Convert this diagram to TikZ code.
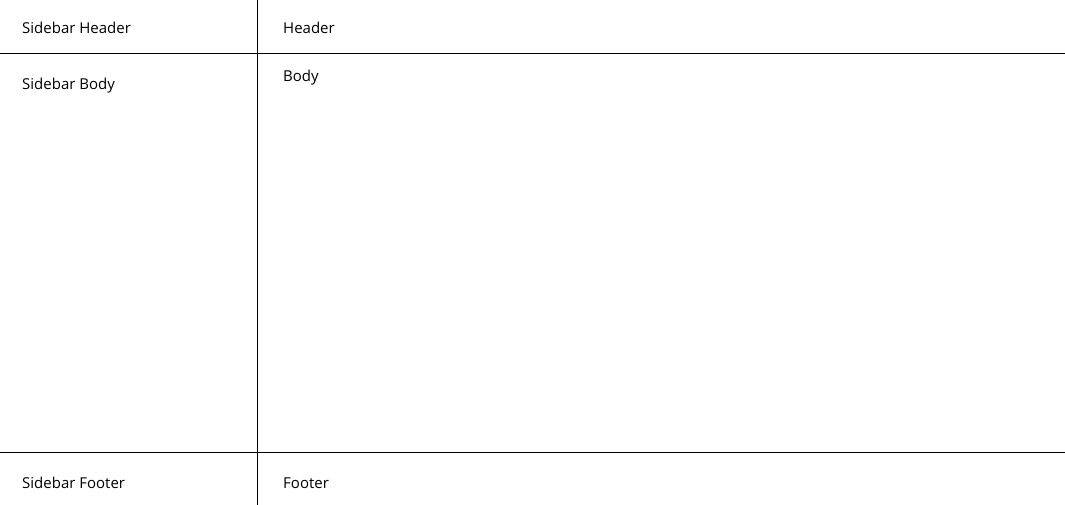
\documentclass[tikz,border=0pt]{standalone}
\usepackage{fontspec}
\setmainfont{Open Sans}
\begin{document}
\begin{tikzpicture}[x=1pt,y=-1pt,
  cell/.style={anchor=base west,inner sep=0pt,font=\fontsize{15}{18}\selectfont},
  rule/.style={line width=0.9pt}]
\useasboundingbox (0,0) rectangle (1065,505);

\draw[rule] (0,53)   -- (1065,53);
\draw[rule] (0,452)  -- (1065,452);
\draw[rule] (257,0)  -- (257,505);

\node[cell] (sbhead) at (22,34)  {Sidebar Header};
\node[cell] (head)   at (283,34) {Header};
\node[cell] (sbbody) at (22,90)  {Sidebar Body};
\node[cell] (body)   at (283,82) {Body};
\node[cell] (sbfoot) at (22,488) {Sidebar Footer};
\node[cell] (foot)   at (283,488) {Footer};
\end{tikzpicture}
\end{document}
